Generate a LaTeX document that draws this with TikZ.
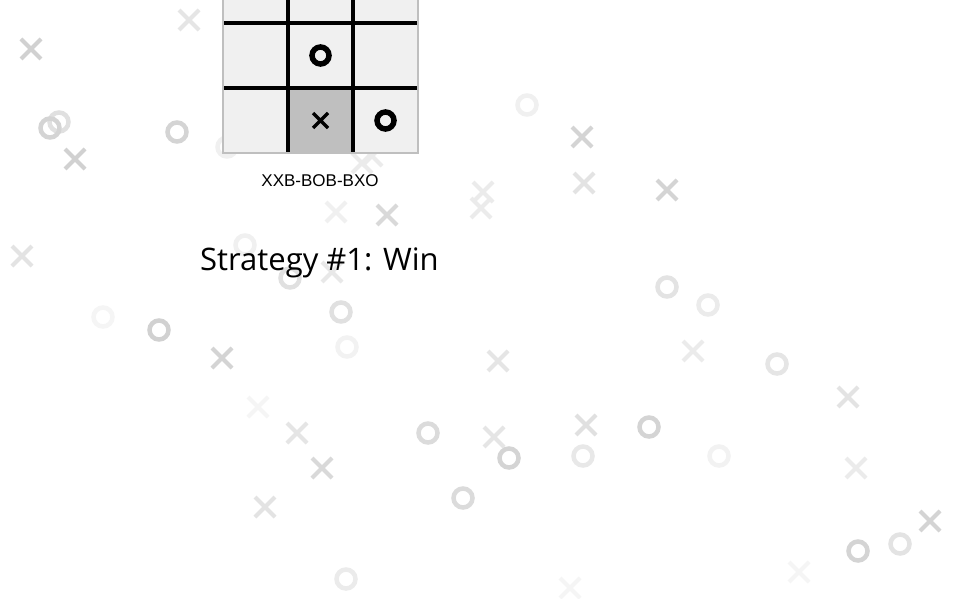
\documentclass[tikz,border=0pt]{standalone}
\usepackage{fontspec}
\setmainfont{Liberation Sans}
\newfontfamily\titlefont{Open Sans}
\usetikzlibrary{positioning}
\tikzset{
  xline/.style ={line width=4pt},
  oline/.style ={line width=4.5pt},
  cellbox/.style ={fill=black!6},
  hotcell/.style ={fill=black!25},
  gridline/.style ={line width=4pt,black},
  boardrim/.style ={line width=2pt,black!25},
  pxline/.style ={line width=3.5pt,black},
  poline/.style ={line width=5.5pt,black},
}
\newcommand{\bgX}[3]{\draw[xline,black!#3,shift={(#1,#2)}] (-10,-10) -- (10,10) (-10,10) -- (10,-10);}
\newcommand{\bgO}[3]{\draw[oline,black!#3] (#1,#2) circle[radius=9.5pt];}

\begin{document}
\begin{tikzpicture}[x=1pt,y=-1pt]
\clip (0,0) rectangle (958,599);
\fill[white] (0,0) rectangle (958,599);
% scattered marks
\foreach \px/\py/\pg in {31/49/18, 189/20/10, 75/159/18, 362/163/8, 372/156/8,
  336/212/6, 387/215/15, 483/192/8, 481/208/8, 332/272/9, 22/256/11,
  222/358/17, 258/407/4, 297/433/10, 322/468/15, 265/507/11, 582/137/17,
  584/183/11, 667/190/17, 498/361/10, 693/351/8, 848/397/11, 494/437/10,
  586/425/12, 856/468/8, 930/521/17, 799/572/4, 570/588/4}
  {\bgX{\px}{\py}{\pg}}
\foreach \px/\py/\pg in {59/122/12, 50/128/17, 177/132/17, 227/147/6, 245/245/6,
  290/278/12, 341/312/12, 347/347/5, 103/317/4, 159/330/18, 428/433/14,
  463/498/14, 346/579/8, 527/105/6, 667/287/11, 708/305/8, 777/364/10,
  509/458/17, 583/456/9, 649/427/17, 719/456/5, 858/551/17, 900/544/11}
  {\bgO{\px}{\py}{\pg}}
% board
\fill[cellbox] (223,-42) rectangle (418,153);
\fill[hotcell] (288,88) rectangle (353,153);
\draw[gridline] (288,-42) -- (288,153) (353,-42) -- (353,153);
\draw[gridline] (223,23) -- (418,23) (223,88) -- (418,88);
\draw[boardrim] (223,-42) rectangle (418,153);
\draw[poline] (320.5,55.5) circle[radius=8.5pt];
\draw[poline] (385.5,120.5) circle[radius=8.5pt];
\draw[pxline,shift={(320.5,120.5)}] (-7.5,-7.5) -- (7.5,7.5) (-7.5,7.5) -- (7.5,-7.5);
% labels
\node[anchor=base,inner sep=0pt,font=\fontsize{17}{20}\selectfont] (code) at (320,186) {XXB-BOB-BXO};
\node[anchor=base west,inner sep=0pt,font=\titlefont\fontsize{31}{37}\selectfont] (title) at (200,270) {Strategy \#1: Win};
\end{tikzpicture}
\end{document}
